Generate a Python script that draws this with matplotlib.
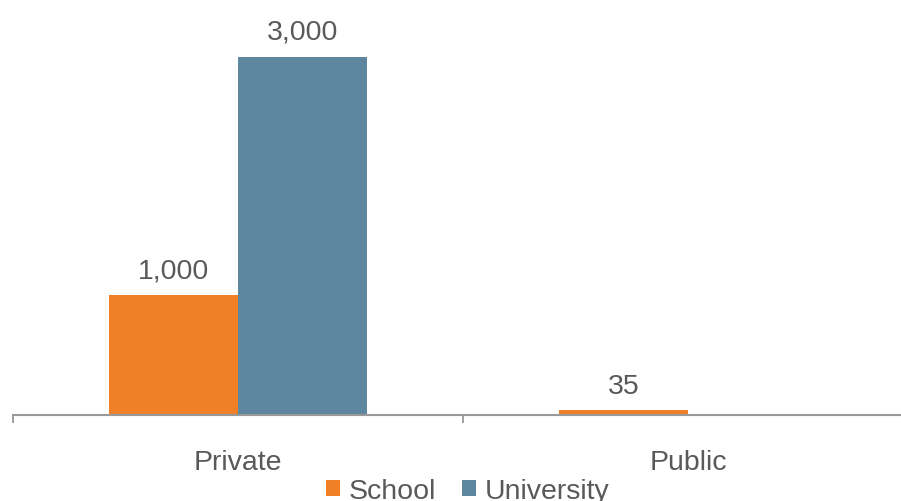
import numpy as np
from matplotlib import pyplot as plt
from matplotlib.patches import Patch

# data
categories = ['Private', 'Public']
series_names = ['School', 'University']
school = [1000, 35]
university = [3000, np.nan]   # no university bar for Public

colors = ['#F07F26', '#5E869F']
text_grey = '#595959'
axis_grey = '#999999'

plt.rcParams['font.family'] = ['Liberation Sans', 'DejaVu Sans']
fsize = 20.5

W, H = 901, 502
fig = plt.figure(figsize=(W / 100, H / 100), dpi=100)
# axes runs off the right edge like the source picture
base_px = 415.5
ymax = 3500
px_per_unit = (415.5 - 57.7) / 3000
ax_h = ymax * px_per_unit
ax = fig.add_axes([13 / W, (H - base_px) / H, 900 / W, ax_h / H])

x = np.arange(len(categories))
w = 0.287
for i, (vals, name) in enumerate(zip([school, university], series_names)):
    pos = x + (i - 0.5) * w
    bars = ax.bar(pos, np.nan_to_num(vals), width=w, color=colors[i], label=name)
    for p, v in zip(pos, vals):
        if np.isnan(v):
            continue
        ax.annotate(f'{v:,.0f}', (p, v), xytext=(0, 8.5), textcoords='offset points',
                    ha='center', va='bottom', fontsize=fsize, color=text_grey)

ax.set_xlim(-0.5, 1.5)
ax.set_ylim(0, ymax)
ax.set_yticks([])
for s in ['top', 'right', 'left']:
    ax.spines[s].set_visible(False)
ax.spines['bottom'].set_color(axis_grey)
ax.spines['bottom'].set_linewidth(1.5)

ax.set_xticks(x)
ax.set_xticklabels(categories, fontsize=fsize, color=text_grey)
ax.tick_params(axis='x', which='major', length=0, pad=24.5)
ax.set_xticks([-0.5, 0.5, 1.5], minor=True)
ax.tick_params(axis='x', which='minor', length=6, width=1.3, color=axis_grey)

handles = [Patch(facecolor=c, edgecolor='none') for c in colors]
fig.legend(handles, series_names, loc='center', bbox_to_anchor=(467.5 / W, 1 - 492 / H),
           ncol=2, frameon=False, fontsize=fsize, labelcolor=text_grey,
           handlelength=0.5, handleheight=0.5, handletextpad=0.3, columnspacing=0.9,
           borderpad=0, borderaxespad=0)

fig.savefig('out.png', dpi=100)
